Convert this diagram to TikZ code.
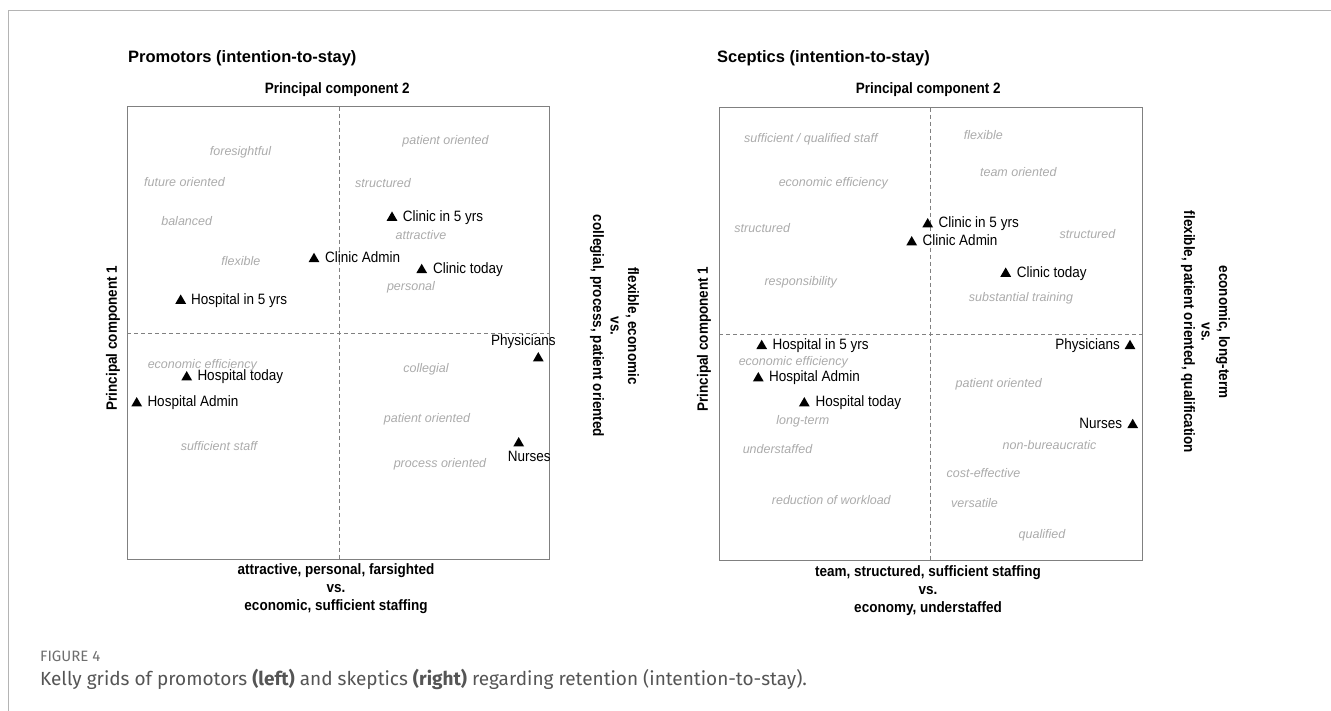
\documentclass[tikz,border=0pt]{standalone}
\usepackage{fontspec}
\setmainfont{Liberation Sans}
\newfontfamily\condfont[FakeStretch=0.9]{Liberation Sans}
\newfontfamily\capfont{Fira Sans}
\usetikzlibrary{shapes.geometric}
\definecolor{framegray}{HTML}{B4B4B4}
\definecolor{boxgray}{HTML}{808080}
\definecolor{termgray}{HTML}{ABABAB}
\definecolor{capgray}{HTML}{555555}
\begin{document}
\begin{tikzpicture}[x=1pt,y=-1pt,
  frameline/.style={draw=framegray,line width=1.5pt},
  panel/.style={draw=boxgray,line width=1.2pt},
  axisline/.style={draw=boxgray,dash pattern=on 4pt off 3pt,line width=0.8pt},
  tri/.style={regular polygon,regular polygon sides=3,fill=black,inner sep=0pt,minimum size=12.5pt},
  pt/.style={anchor=west,inner sep=0pt,font=\condfont\fontsize{15}{18}\selectfont,text height=0.72em,text depth=0pt},
  ptr/.style={pt,anchor=east},
  term/.style={inner sep=0pt,text=termgray,font=\itshape\fontsize{12.5}{15}\selectfont,text height=0.52em,text depth=0pt},
  axlab/.style={inner sep=0pt,font=\condfont\bfseries\fontsize{15}{18}\selectfont},
  sidelab/.style={inner sep=0pt,align=center,rotate=-90,font=\condfont\bfseries\fontsize{15}{17.5}\selectfont},
  botlab/.style={inner sep=0pt,align=center,font=\condfont\bfseries\fontsize{15}{18}\selectfont},
  ttl/.style={anchor=west,inner sep=0pt,font=\bfseries\fontsize{16.5}{20}\selectfont,text height=0.72em,text depth=0pt},
  capt/.style={anchor=west,inner sep=0pt,text=capgray,font=\capfont\fontsize{19}{22}\selectfont}
]
\useasboundingbox (0,0) rectangle (1331,711);
% outer frame
\draw[frameline] (8.5,711) -- (8.5,10.5) -- (1331,10.5);

% ===== Left panel =====
\node[ttl] (ttlA) at (128,59) {Promotors (intention-to-stay)};
\node[axlab] (pc2A) at (337.2,89.3) {Principal component 2};
\node[axlab,rotate=90] (pc1A) at (113,338) {Principal component 1};
\draw[panel] (127.3,106.7) rectangle (549.7,559.3);
\draw[axisline] (339.3,106.7) -- (339.3,559.3);
\draw[axisline] (127.3,333.3) -- (549.7,333.3);
\node[sidelab] (sideA) at (614.5,326) {flexible, economic\\vs.\\collegial, process, patient oriented};
\node[botlab] (botA) at (336,589) {attractive, personal, farsighted\\vs.\\economic, sufficient staffing};

\node[term] (a1) at (240.5,152.7) {foresightful};
\node[term] (a2) at (184.5,184) {future oriented};
\node[term] (a3) at (186.7,222.7) {balanced};
\node[term] (a4) at (240.8,263.3) {flexible};
\node[term] (a5) at (445.5,141.7) {patient oriented};
\node[term] (a6) at (383,185.3) {structured};
\node[term] (a7) at (421,236.7) {attractive};
\node[term] (a8) at (411,287.7) {personal};
\node[term] (a9) at (202.3,366) {economic efficiency};
\node[term] (a10) at (219,448.3) {sufficient staff};
\node[term] (a11) at (426,370) {collegial};
\node[term] (a12) at (427,420) {patient oriented};
\node[term] (a13) at (440,465) {process oriented};

\node[tri] (tA1) at (392,217.7) {};
\node[pt] (lA1) at (402.7,217.7) {Clinic in 5 yrs};
\node[tri] (tA2) at (314,259) {};
\node[pt] (lA2) at (325,259) {Clinic Admin};
\node[tri] (tA3) at (421.7,270) {};
\node[pt] (lA3) at (433,270) {Clinic today};
\node[tri] (tA4) at (180.7,300.7) {};
\node[pt] (lA4) at (191,300.7) {Hospital in 5 yrs};
\node[tri] (tA5) at (538.3,358.3) {};
\node[pt] (lA5) at (491,342.3) {Physicians};
\node[tri] (tA6) at (186.7,377.3) {};
\node[pt] (lA6) at (197.3,377.3) {Hospital today};
\node[tri] (tA7) at (136.7,403.3) {};
\node[pt] (lA7) at (147.3,403.3) {Hospital Admin};
\node[tri] (tA8) at (518.7,443.3) {};
\node[pt] (lA8) at (507.7,457.7) {Nurses};

% ===== Right panel =====
\node[ttl] (ttlB) at (717,59) {Sceptics (intention-to-stay)};
\node[axlab] (pc2B) at (928.3,90) {Principal component 2};
\node[axlab,rotate=90] (pc1B) at (704,339) {Principal component 1};
\draw[panel] (719.3,107.7) rectangle (1142.3,560.7);
\draw[axisline] (930.7,107.7) -- (930.7,560.7);
\draw[axisline] (719.3,334.5) -- (1142.3,334.5);
\node[sidelab] (sideB) at (1205.5,332) {economic, long-term\\vs.\\flexible, patient oriented, qualification};
\node[botlab] (botB) at (928,591) {team, structured, sufficient staffing\\vs.\\economy, understaffed};

\node[term] (b1) at (810.8,140) {sufficient / qualified staff};
\node[term] (b2) at (833.3,184) {economic efficiency};
\node[term] (b3) at (762.2,230.3) {structured};
\node[term] (b4) at (800.7,282.7) {responsibility};
\node[term] (b5) at (983.3,136.7) {flexible};
\node[term] (b6) at (1018.3,174) {team oriented};
\node[term] (b7) at (1087.5,236) {structured};
\node[term] (b8) at (1021,298.7) {substantial training};
\node[term] (b9) at (793.3,362.7) {economic efficiency};
\node[term] (b10) at (802.8,422.3) {long-term};
\node[term] (b11) at (777.5,451) {understaffed};
\node[term] (b12) at (831.3,502) {reduction of workload};
\node[term] (b13) at (998.7,385) {patient oriented};
\node[term] (b14) at (1049.5,447.3) {non-bureaucratic};
\node[term] (b15) at (983.5,474.7) {cost-effective};
\node[term] (b16) at (974.5,505.3) {versatile};
\node[term] (b17) at (1042,536) {qualified};

\node[tri] (tB1) at (927.7,224.3) {};
\node[pt] (lB1) at (938.3,224.3) {Clinic in 5 yrs};
\node[tri] (tB2) at (911.7,242.3) {};
\node[pt] (lB2) at (922.3,242.3) {Clinic Admin};
\node[tri] (tB3) at (1005.7,273.7) {};
\node[pt] (lB3) at (1016.7,273.7) {Clinic today};
\node[tri] (tB4) at (761.7,346) {};
\node[pt] (lB4) at (772.3,346) {Hospital in 5 yrs};
\node[tri] (tB5) at (758.3,378.3) {};
\node[pt] (lB5) at (769,378.3) {Hospital Admin};
\node[tri] (tB6) at (804.3,403.3) {};
\node[pt] (lB6) at (815.3,403.3) {Hospital today};
\node[tri] (tB7) at (1130,346) {};
\node[ptr] (lB7) at (1120,346) {Physicians};
\node[tri] (tB8) at (1132.7,425) {};
\node[ptr] (lB8) at (1122.3,425) {Nurses};

% ===== Caption =====
\node[capt,text=capgray!85,font=\capfont\fontsize{15}{18}\selectfont] (figno) at (40,656) {FIGURE 4};
\node[capt] (caption) at (40,679) {Kelly grids of promotors \textbf{(left)} and skeptics \textbf{(right)} regarding retention (intention-to-stay).};
\end{tikzpicture}
\end{document}
